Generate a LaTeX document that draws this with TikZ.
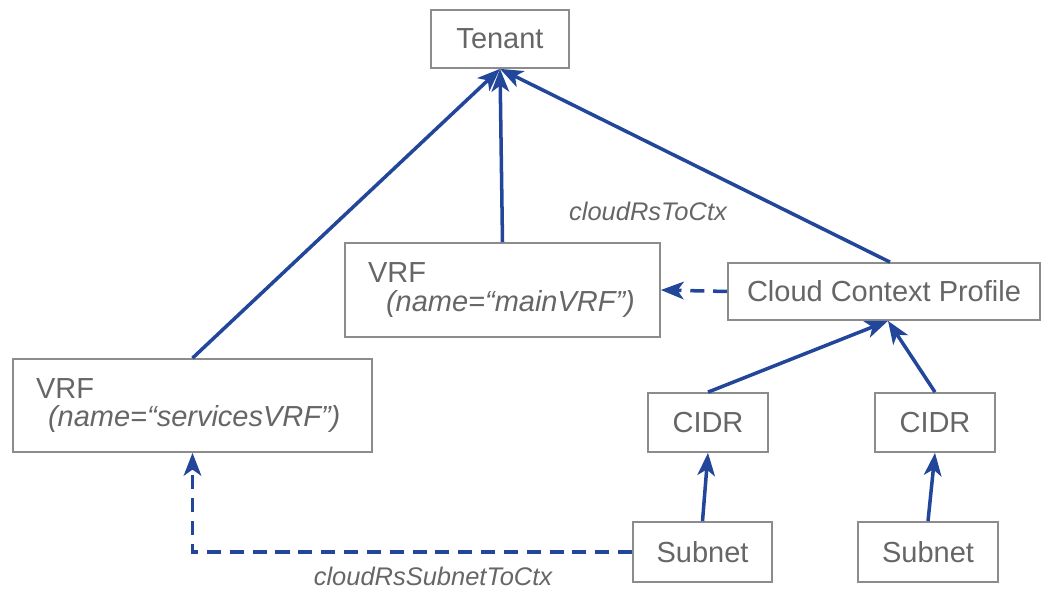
\documentclass[tikz,border=0pt]{standalone}
\usepackage{fontspec}
\setmainfont{Liberation Sans}
\usetikzlibrary{arrows.meta}
\definecolor{linkblue}{HTML}{22479A}
\definecolor{boxgray}{HTML}{8C8C8C}
\definecolor{txtgray}{HTML}{666666}
\tikzset{
  box/.style={draw=boxgray,line width=1pt,text=txtgray,inner sep=0pt,
    font=\fontsize{16.5}{16}\selectfont},
  vrfbox/.style={box,align=left,inner xsep=0.46cm},
  link/.style={draw=linkblue,line width=2pt,
    -{Stealth[length=13pt,width=10pt,inset=3.5pt]}},
  rel/.style={link,dash pattern=on 8pt off 5pt},
  rellabel/.style={text=txtgray,font=\fontsize{14.5}{17}\selectfont\itshape}
}
\begin{document}
\begin{tikzpicture}[x=0.02cm,y=-0.02cm]
  \useasboundingbox (0,0) rectangle (1045,590);
  % objects
  \node[box,minimum width=2.76cm,minimum height=1.16cm] (tenant) at (500,39) {Tenant};
  \node[vrfbox,text width=5.38cm,minimum height=1.88cm] (mainvrf) at (502.5,290)
    {VRF\\\hspace*{0.36cm}\textit{(name=“mainVRF”)}};
  \node[vrfbox,text width=6.26cm,minimum height=1.86cm] (svcvrf) at (192.5,405.5)
    {VRF\\\hspace*{0.24cm}\textit{(name=“servicesVRF”)}};
  \node[box,minimum width=6.24cm,minimum height=1.14cm] (ccp) at (884,291.5) {Cloud Context Profile};
  \node[box,minimum width=2.4cm,minimum height=1.18cm] (cidra) at (708,422.5) {CIDR};
  \node[box,minimum width=2.4cm,minimum height=1.18cm] (cidrb) at (935,422.5) {CIDR};
  \node[box,minimum width=2.78cm,minimum height=1.2cm] (subneta) at (702.5,552) {Subnet};
  \node[box,minimum width=2.8cm,minimum height=1.2cm] (subnetb) at (928,552) {Subnet};
  % containment
  \draw[link] (svcvrf.north) -- (tenant.south);
  \draw[link] (mainvrf.north) -- (tenant.south);
  \draw[link] ([xshift=0.12cm]ccp.north) -- (tenant.south);
  \draw[link] (cidra.north) -- ([xshift=0.08cm]ccp.south);
  \draw[link] (cidrb.north) -- ([xshift=0.08cm]ccp.south);
  \draw[link] (subneta.north) -- (cidra.south);
  \draw[link] (subnetb.north) -- (cidrb.south);
  % relations
  \draw[rel] (ccp.west) -- (mainvrf.east);
  \draw[rel] (subneta.west) -| (svcvrf.south);
  \node[rellabel] (rstoctx) at (648,211) {cloudRsToCtx};
  \node[rellabel] (rssubnet) at (433,576) {cloudRsSubnetToCtx};
\end{tikzpicture}
\end{document}
